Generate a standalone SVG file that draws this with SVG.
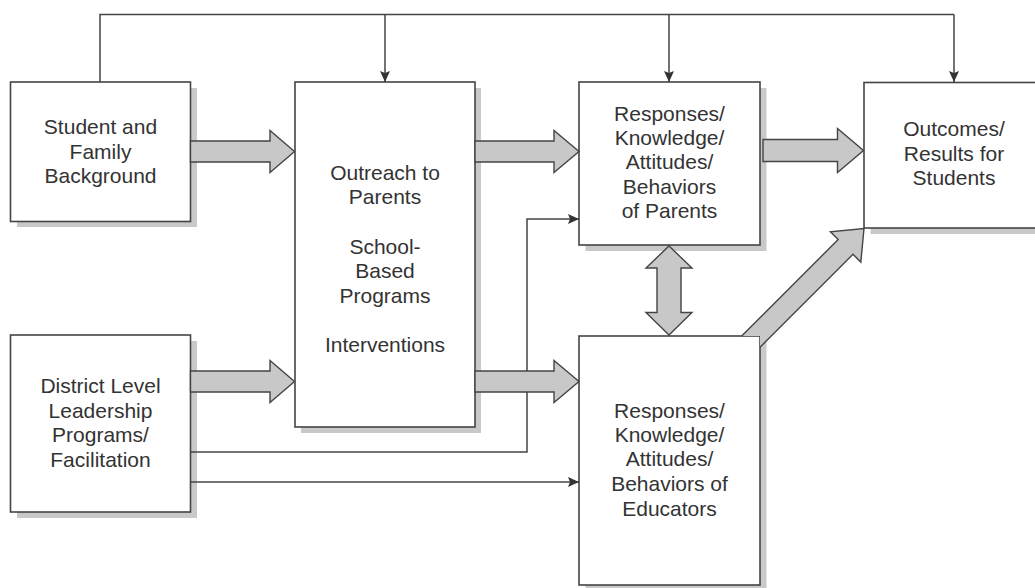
<svg xmlns="http://www.w3.org/2000/svg" width="1035" height="588" viewBox="0 0 1035 588">
<defs>
<style>
.box{fill:#fff;stroke:#444;stroke-width:1.6}
.shadow{fill:#c9c9c9}
.lbl{font-family:"Liberation Sans",Arial,Helvetica,sans-serif;font-size:21px;fill:#333;text-anchor:middle}
.thin{fill:none;stroke:#444;stroke-width:1.5}
.fat{fill:#c8c8c8;stroke:#444;stroke-width:1.4;stroke-linejoin:miter}
.fatfill{fill:#c8c8c8;stroke:none}
.fatedge{fill:none;stroke:#444;stroke-width:1.4}
</style>
<marker id="ah" markerWidth="12" markerHeight="10" refX="11" refY="5" orient="auto" markerUnits="userSpaceOnUse">
<path d="M0,0 L11,5 L0,10 L2,5 Z" fill="#333"/>
</marker>
</defs>
<rect width="1035" height="588" fill="#fff"/>

<g id="student">
<rect class="shadow" x="17" y="88" width="180" height="139"/>
<rect class="box" x="10.5" y="82" width="180" height="139.5"/>
<text class="lbl" x="100.5" y="134.3">Student and</text>
<text class="lbl" x="100.5" y="158.7">Family</text>
<text class="lbl" x="100.5" y="183.3">Background</text>
</g>

<g id="district">
<rect class="shadow" x="17" y="341" width="180" height="177"/>
<rect class="box" x="10.5" y="335" width="180" height="177"/>
<text class="lbl" x="100.5" y="393.3">District Level</text>
<text class="lbl" x="100.5" y="417.7">Leadership</text>
<text class="lbl" x="100.5" y="442.3">Programs/</text>
<text class="lbl" x="100.5" y="466.7">Facilitation</text>
</g>

<g id="outreach">
<rect class="shadow" x="301" y="88" width="180" height="345"/>
<rect class="box" x="295" y="82" width="180" height="345"/>
<text class="lbl" x="385" y="180">Outreach to</text>
<text class="lbl" x="385" y="204">Parents</text>
<text class="lbl" x="385" y="254">School-</text>
<text class="lbl" x="385" y="278.3">Based</text>
<text class="lbl" x="385" y="302.7">Programs</text>
<text class="lbl" x="385" y="352">Interventions</text>
</g>

<g id="parents">
<rect class="shadow" x="585.5" y="88" width="181" height="163"/>
<rect class="box" x="579" y="82" width="181" height="163"/>
<text class="lbl" x="669.5" y="121">Responses/</text>
<text class="lbl" x="669.5" y="145">Knowledge/</text>
<text class="lbl" x="669.5" y="169">Attitudes/</text>
<text class="lbl" x="669.5" y="193.7">Behaviors</text>
<text class="lbl" x="669.5" y="217.7">of Parents</text>
</g>

<g id="educators">
<rect class="shadow" x="585.5" y="342" width="181" height="249"/>
<rect class="box" x="579" y="336" width="181" height="249"/>
<text class="lbl" x="669.5" y="417.7">Responses/</text>
<text class="lbl" x="669.5" y="441.7">Knowledge/</text>
<text class="lbl" x="669.5" y="466">Attitudes/</text>
<text class="lbl" x="669.5" y="491">Behaviors of</text>
<text class="lbl" x="669.5" y="515.7">Educators</text>
</g>

<g id="outcomes">
<rect class="shadow" x="870.5" y="88" width="200" height="146"/>
<rect class="box" x="864" y="82.5" width="200" height="145.5"/>
<text class="lbl" x="954" y="136">Outcomes/</text>
<text class="lbl" x="954" y="161">Results for</text>
<text class="lbl" x="954" y="185">Students</text>
</g>

<g id="connectors">
<!-- thin connectors -->
<polyline class="thin" points="100,82 100,14.5 954,14.5"/>
<line class="thin" x1="385" y1="14.5" x2="385" y2="82" marker-end="url(#ah)"/>
<line class="thin" x1="669" y1="14.5" x2="669" y2="82" marker-end="url(#ah)"/>
<line class="thin" x1="954" y1="14.5" x2="954" y2="82" marker-end="url(#ah)"/>
<polyline class="thin" points="190.5,452 527,452 527,219 579,219" marker-end="url(#ah)"/>
<line class="thin" x1="190.5" y1="482" x2="579" y2="482" marker-end="url(#ah)"/>

<!-- fat arrows -->
<polygon class="fat" points="190.5,141 270,141 270,130.5 294.5,151.5 270,172.5 270,162 190.5,162"/>
<polygon class="fat" points="190.5,371 270,371 270,360.5 294.5,381.5 270,402.5 270,392 190.5,392"/>
<polygon class="fat" points="475,141 554,141 554,130.5 579,151.5 554,172.5 554,162 475,162"/>
<polygon class="fat" points="475,371 554,371 554,360.5 579,381.5 554,402.5 554,392 475,392"/>
<polygon class="fat" points="763,139.5 837.5,139.5 837.5,128.5 863.5,150.5 837.5,172.5 837.5,161.5 763,161.5"/>
<polygon class="fat" points="669,246 692,268 681,268 681,312.5 692,312.5 669,335 646,312.5 657,312.5 657,268 646,268"/>
<polygon class="fatfill" points="741.7,336 760,336 760,347.3 853,254.3 860.8,262.1 864,228.5 830.4,231.7 838.2,239.5"/>
<polyline class="fatedge" points="760,347.3 853,254.3 860.8,262.1 864,228.5 830.4,231.7 838.2,239.5 741.7,336"/>
</g>
</svg>
